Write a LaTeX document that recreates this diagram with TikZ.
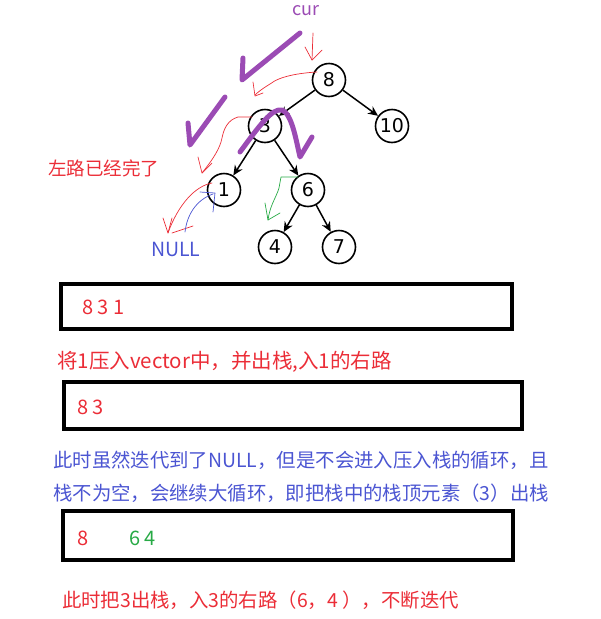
\documentclass[tikz,border=0pt]{standalone}
\usepackage{fontspec}
\setmainfont{Noto Sans CJK SC}
\newfontfamily\numfont{DejaVu Sans}
\usetikzlibrary{arrows.meta}
\definecolor{myred}{RGB}{235,45,55}
\definecolor{myblue}{RGB}{75,85,210}
\definecolor{mypurple}{RGB}{155,75,180}
\definecolor{mygreen}{RGB}{40,170,70}
\tikzset{
  tnode/.style={circle,draw=black,line width=1.6pt,minimum size=33pt,inner sep=0pt,font=\numfont\fontsize{19}{20}\selectfont},
  tedge/.style={line width=1.5pt,-{Stealth[length=10pt,width=9pt]}},
  stackbox/.style={draw=black,line width=4pt},
  note/.style={anchor=west,inner sep=0pt,font=\fontsize{19.4}{22}\selectfont},
  hand/.style={line width=0.7pt,line cap=round,line join=round},
  thick purple/.style={draw=mypurple,line width=5pt,line cap=round,line join=round}
}
\begin{document}
\begin{tikzpicture}[x=1pt,y=-1pt]
\useasboundingbox (0,0) rectangle (601,619);
% tree
\node[tnode] (n8) at (329,80) {8};
\node[tnode] (n10) at (392,126) {10};
\node[tnode] (n3) at (265,126) {3};
\node[tnode] (n1) at (224,190) {1};
\node[tnode] (n6) at (308,190) {6};
\node[tnode] (n4) at (275,247) {4};
\node[tnode] (n7) at (339,247) {7};
\draw[tedge] (n8) -- (n3);
\draw[tedge] (n8) -- (n10);
\draw[tedge] (n3) -- (n1);
\draw[tedge] (n3) -- (n6);
\draw[tedge] (n6) -- (n4);
\draw[tedge] (n6) -- (n7);
% labels
\node[font=\fontsize{18}{20}\selectfont,text=mypurple,inner sep=0pt] (cur) at (306,11) {cur};
\node[note,text=myblue,font=\fontsize{19.5}{22}\selectfont] (null) at (151,249) {NULL};
\node[note,text=myred,font=\fontsize{18.5}{22}\selectfont] (left) at (48,168) {左路已经完了};
% purple strokes
\draw[thick purple] (300,33) -- (242,80) -- (243,58);
\draw[thick purple] (225,97) -- (190,145) -- (188,123);
\draw[thick purple] (240,152) .. controls (260,125) and (272,108) .. (282,110)
  .. controls (292,114) and (296,140) .. (300,157) -- (312,137);
% red hand arrows
\draw[hand,myred] (313,33) -- (312,60);
\draw[hand,myred] (305,47) -- (312,60) -- (322,50);
\draw[hand,myred] (317,72) .. controls (300,73) and (280,76) .. (270,84) .. controls (262,89) and (258,92) .. (255,95);
\draw[hand,myred] (253,82) -- (255,96) -- (263,93);
\draw[hand,myred] (252,117) -- (238,117) .. controls (228,120) and (224,128) .. (222,138)
  .. controls (220,148) and (214,158) .. (202,173);
\draw[hand,myred] (198,157) -- (202,173) -- (212,163);
\draw[hand,myred] (212,183) .. controls (195,186) and (178,205) .. (168,233);
\draw[hand,myred] (163,218) -- (168,233) -- (172,218);
\draw[hand,myred] (172,233) -- (193,226);
% blue
\draw[hand,myblue] (185,232) .. controls (187,215) and (196,200) .. (213,194);
\draw[hand,myblue] (200,192) -- (215,193) -- (213,212);
% green
\draw[hand,mygreen] (298,177) -- (281,177) -- (279,188) .. controls (276,198) and (270,205) .. (268,220);
\draw[hand,mygreen] (265,203) -- (268,220) -- (280,213);
% stack boxes
\draw[stackbox] (60.5,284) rectangle (511.5,329);
\node[note,text=myred,font=\fontsize{20}{22}\selectfont] (s1) at (82,307) {8 3 1};
\node[note,text=myred,font=\fontsize{20.5}{22}\selectfont] (t1) at (57,362) {将1压入vector中，并出栈,入1的右路};
\draw[stackbox] (64,382) rectangle (522,429);
\node[note,text=myred,font=\fontsize{20}{22}\selectfont] (s2) at (77,407) {8 3};
\node[note,text=myblue] (t2) at (53,460) {此时虽然迭代到了NULL，但是不会进入压入栈的循环，且};
\node[note,text=myblue] (t3) at (53,493) {栈不为空，会继续大循环，即把栈中的栈顶元素（3）出栈};
\draw[stackbox] (63,510.5) rectangle (513,559.5);
\node[note,text=myred,font=\fontsize{20}{22}\selectfont] (s3a) at (77,538) {8};
\node[note,text=mygreen,font=\fontsize{20}{22}\selectfont] (s3b) at (129,538) {6 4};
\node[note,text=myred] (t4) at (62,600) {此时把3出栈，入3的右路（6，4 ），不断迭代};
\end{tikzpicture}
\end{document}
